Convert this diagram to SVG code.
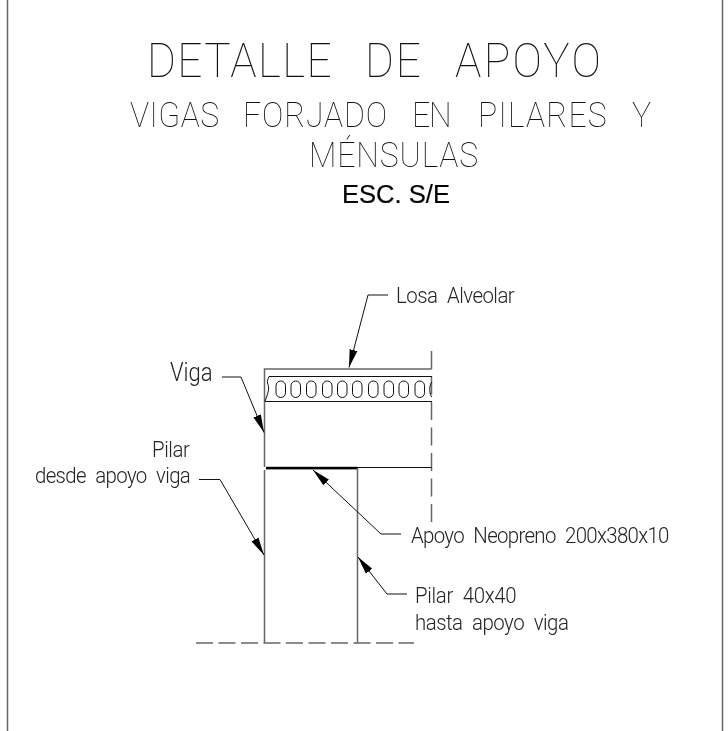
<svg xmlns="http://www.w3.org/2000/svg" width="728" height="731" viewBox="0 0 728 731">
<style>
.c{font-family:"Roboto","Liberation Sans",sans-serif;font-weight:300;fill:#222}
.t{font-size:49px;font-weight:100;fill:#111}
.s{font-size:35.500px;font-weight:100;fill:#111}
.l{font-size:21.500px;word-spacing:.25em}
.ln{fill:none;stroke:#111;stroke-width:1}
.g{fill:none;stroke:#666;stroke-width:1.500}
</style>
<defs>
<marker id="a" markerUnits="userSpaceOnUse" markerWidth="20" markerHeight="10" refX="18" refY="5" orient="auto"><path d="M0 1L18 5L0 9Z" fill="#000"/></marker>
</defs>
<rect width="728" height="731" fill="#fff"/>
<g id="frame"><path class="g" d="M7.500 0V731M722.500 0V731"/></g>
<g id="titles" opacity=".99">
<text class="c t" transform="translate(147 77) scale(.9 1)" textLength="205" lengthAdjust="spacing">DETALLE</text>
<text class="c t" transform="translate(365 77) scale(.9 1)" textLength="62" lengthAdjust="spacing">DE</text>
<text class="c t" transform="translate(455 77) scale(.9 1)" textLength="162" lengthAdjust="spacing">APOYO</text>
<text class="c s" transform="translate(130 126.500) scale(.9 1)" textLength="99" lengthAdjust="spacing">VIGAS</text>
<text class="c s" transform="translate(243 126.500) scale(.9 1)" textLength="160" lengthAdjust="spacing">FORJADO</text>
<text class="c s" transform="translate(412 126.500) scale(.9 1)" textLength="44" lengthAdjust="spacing">EN</text>
<text class="c s" transform="translate(478 126.500) scale(.9 1)" textLength="143" lengthAdjust="spacing">PILARES</text>
<text class="c s" transform="translate(632 126.500) scale(.9 1)">Y</text>
<text class="c s" transform="translate(309 167) scale(.9 1)" textLength="188" lengthAdjust="spacing">MÉNSULAS</text>
<text x="342" y="203" font-family="Liberation Sans, Arial, sans-serif" font-size="25" fill="#000" stroke="#000" stroke-width=".2" textLength="108" lengthAdjust="spacingAndGlyphs">ESC. S/E</text>
</g>
<g id="viga">
<path class="g" d="M431.500 369H264.500V467"/>
<path class="g" style="stroke-dasharray:18 7.500" d="M431.500 351V522"/>
<path class="ln" d="M266 467.500H431.500"/>
</g>
<g id="losa-alveolar">
<path class="ln" d="M269 376.500H432M265 401.500H432"/>
<path class="ln" d="M269 376.500C268 379 267 381 267.500 383C268 385 269 387 268.500 390C268 394 266 398 265 401.500"/>
<g class="ln">
<rect x="276" y="381" width="9.500" height="16.500" rx="4.700"/><rect x="291" y="381" width="9.500" height="16.500" rx="4.700"/><rect x="306.500" y="381" width="9.500" height="16.500" rx="4.700"/><rect x="322.500" y="381" width="9.500" height="16.500" rx="4.700"/><rect x="337.500" y="381" width="9.500" height="16.500" rx="4.700"/><rect x="352.500" y="381" width="9.500" height="16.500" rx="4.700"/><rect x="368.500" y="381" width="9.500" height="16.500" rx="4.700"/><rect x="384" y="381" width="9.500" height="16.500" rx="4.700"/><rect x="399" y="381" width="9.500" height="16.500" rx="4.700"/><rect x="415" y="381" width="9.500" height="16.500" rx="4.700"/>
<path d="M432 382C429 384 429 395 432 397"/>
</g>
</g>
<g id="apoyo-neopreno"><rect x="266" y="466.800" width="91.500" height="2.600" fill="#000"/></g>
<g id="pilar">
<path class="g" d="M264.500 470V643"/>
<path class="g" d="M357.500 468V643"/>
<path class="g" style="stroke-dasharray:17 5.500" d="M196 643H414"/>
</g>
<g id="connectors">
<path class="ln" marker-end="url(#a)" d="M388 295H368L349 367.500"/>
<path class="ln" marker-end="url(#a)" d="M222 377H241L264 432.500"/>
<path class="ln" marker-end="url(#a)" d="M199 479.500H220L264 555"/>
<path class="ln" marker-end="url(#a)" d="M401 534H381L313 470"/>
<path class="ln" marker-end="url(#a)" d="M407 594H387L358 557"/>
</g>
<g id="labels" opacity=".99">
<text class="c l" transform="translate(396 303) scale(.95 1)" textLength="125" lengthAdjust="spacing">Losa Alveolar</text>
<text class="c" transform="translate(170 381) scale(.85 1)" font-size="26" textLength="50" lengthAdjust="spacing">Viga</text>
<text class="c l" transform="translate(152 457) scale(.95 1)" textLength="40" lengthAdjust="spacing">Pilar</text>
<text class="c l" transform="translate(35 483) scale(.95 1)" textLength="164" lengthAdjust="spacing">desde apoyo viga</text>
<text class="c l" transform="translate(411 543) scale(.95 1)" textLength="272" lengthAdjust="spacing">Apoyo Neopreno 200x380x10</text>
<text class="c l" transform="translate(415 603) scale(.95 1)" textLength="107" lengthAdjust="spacing">Pilar 40x40</text>
<text class="c l" transform="translate(415 630) scale(.95 1)" textLength="162" lengthAdjust="spacing">hasta apoyo viga</text>
</g>
</svg>
